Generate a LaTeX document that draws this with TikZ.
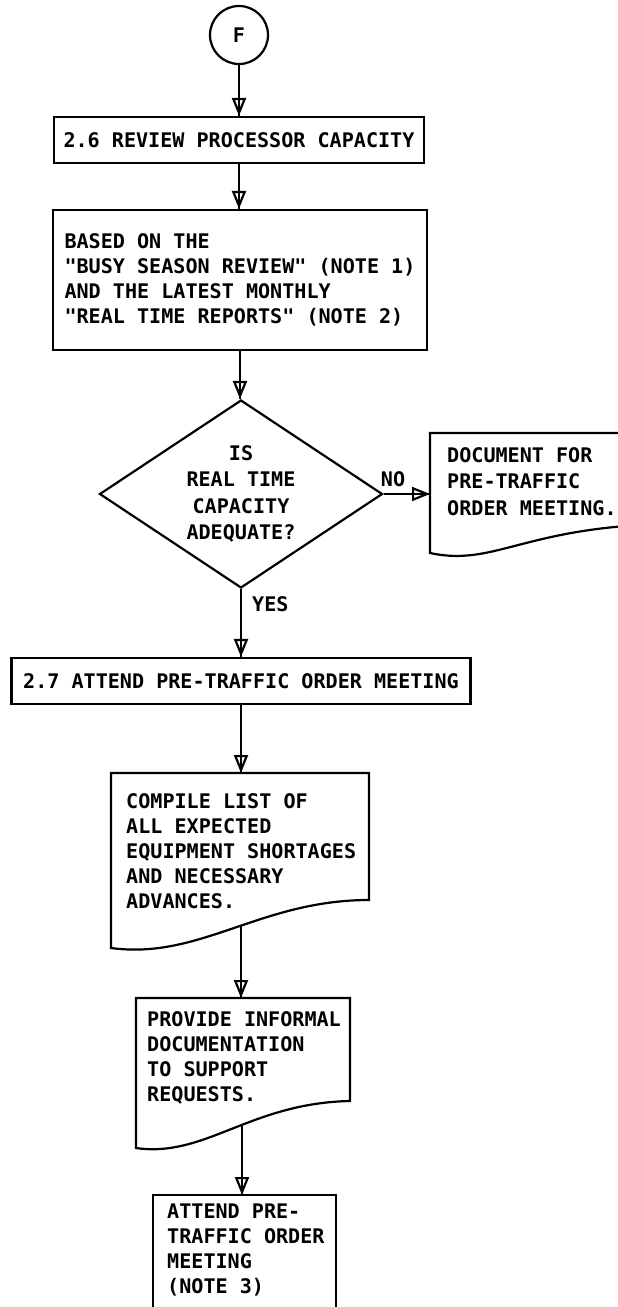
\documentclass[tikz,border=0pt]{standalone}
\usepackage{fontspec}
\usetikzlibrary{arrows.meta,shapes.geometric}
\newfontfamily\chartfont{DejaVu Sans Mono}

\tikzset{
  lw/.style={line width=2.2pt},
  boxtxt/.style={font=\chartfont\bfseries\fontsize{20.1}{25}\selectfont},
  widetxt/.style={font=\chartfont\bfseries\fontsize{20.1}{26.5}\selectfont},
  procbox/.style={boxtxt, draw, lw, rectangle, inner sep=0pt, align=left},
  doctext/.style={boxtxt, align=left, inner ysep=0pt, anchor=west},
  flow/.style={lw, -{Triangle[open,length=18pt,width=14pt]}, preaction={draw,lw,arrows=-}},
}

\begin{document}
\begin{tikzpicture}[x=1pt,y=-1pt]
\useasboundingbox (0,0) rectangle (618,1307);
\fill[white] (0,0) rectangle (618,1307);
\clip (0,0) rectangle (618,1307);

% connector circle and the first two process boxes
\node[circle, draw, lw, boxtxt, minimum size=58pt, inner sep=0pt] (F) at (239,35) {F};
\node[procbox, minimum width=370pt, minimum height=46pt] (b1) at (239,140)
  {2.6 REVIEW PROCESSOR CAPACITY};
\node[procbox, minimum width=374pt, minimum height=140pt] (b2) at (240,280)
  {BASED ON THE\\"BUSY SEASON REVIEW" (NOTE 1)\\AND THE LATEST MONTHLY\\"REAL TIME REPORTS" (NOTE 2)};

% decision
\node[diamond, draw, lw, widetxt, align=center, aspect=1.5, inner sep=0pt,
      minimum width=283pt, minimum height=188pt] (q) at (241,494)
  {IS\\REAL TIME\\CAPACITY\\ADEQUATE?};

% document on the NO branch
\node[widetxt, align=left, inner ysep=0pt, inner xsep=17pt, anchor=west] (d1) at (430,481.5)
  {DOCUMENT FOR\\PRE-TRAFFIC\\ORDER MEETING.};
\draw[lw] (660,433) -- (430,433) -- (430,553)
  .. controls (490,566) and (520,532) .. (640,525) -- (660,524);
\node[boxtxt, inner sep=0pt] (no) at (393,479) {NO};

% second process box
\node[procbox, minimum width=459pt, minimum height=46pt] (b3) at (241,681)
  {2.7 ATTEND PRE-TRAFFIC ORDER MEETING};
\node[boxtxt, inner sep=0pt, anchor=west] (yes) at (252,604) {YES};

% document: shortages list
\node[doctext, inner xsep=15pt] (d4) at (111,851)
  {COMPILE LIST OF\\ALL EXPECTED\\EQUIPMENT SHORTAGES\\AND NECESSARY\\ADVANCES.};
\coordinate (d4top) at (111,773);
\draw[lw] (111,773) -- (369,773) -- (369,900)
  .. controls (260,900) and (200,960) .. (111,948) -- cycle;
\coordinate (d4tail) at (241,925.6);

% document: informal documentation
\node[doctext, inner xsep=11pt] (d5) at (136,1058)
  {PROVIDE INFORMAL\\DOCUMENTATION\\TO SUPPORT\\REQUESTS.};
\coordinate (d5top) at (136,998);
\draw[lw] (136,998) -- (350,998) -- (350,1101)
  .. controls (250,1103) and (205,1158) .. (136,1148) -- cycle;
\coordinate (d5tail) at (242,1125.5);

% last process box, running past the lower edge
\node[doctext, inner xsep=14pt] (b6) at (153,1250)
  {ATTEND PRE-\\TRAFFIC ORDER\\MEETING\\(NOTE 3)};
\coordinate (b6top) at (153,1195);
\draw[lw] (153,1340) -- (153,1195) -- (336,1195) -- (336,1340);

% flow lines
\draw[flow] (F.south) -- (F.south |- b1.north);
\draw[flow] (b1.south) -- (b1.south |- b2.north);
\draw[flow] (b2.south) -- (b2.south |- q.north);
\draw[flow] (q.east) -- (q.east -| d1.west);
\draw[flow] (q.south) -- (q.south |- b3.north);
\draw[flow] (b3.south) -- (b3.south |- d4top);
\draw[flow] (d4tail) -- (d4tail |- d5top);
\draw[flow] (d5tail) -- (d5tail |- b6top);
\end{tikzpicture}
\end{document}
